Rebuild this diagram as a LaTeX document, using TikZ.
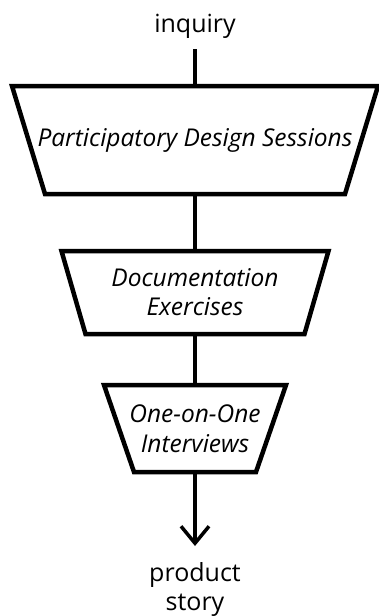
\documentclass[tikz,border=0pt]{standalone}
\usepackage{fontspec}
\setmainfont{Open Sans}
\usetikzlibrary{calc,arrows.meta}
\begin{document}
\begin{tikzpicture}[x=1pt,y=1pt,
  stage/.style={rectangle, inner sep=0pt, outer sep=0pt, align=center,
    font=\fontsize{24.5}{30}\selectfont\itshape},
  outline/.style={draw, line width=4.5pt, line join=miter},
  endtext/.style={inner sep=0pt, align=center,
    font=\fontsize{25}{28.5}\selectfont},
  flow/.style={line width=3.5pt}]
\useasboundingbox (0,0) rectangle (378,-616);

% start and end labels
\node[endtext, anchor=base] (inq) at (195,-32) {inquiry};
\node[endtext, anchor=base] (prod) at (195,-610) {product\\story};

% the three narrowing stages (text boxes)
\node[stage, minimum width=366, minimum height=108]
  (s1) at (195,-140) {Participatory Design Sessions};
\node[stage, minimum width=267, minimum height=83]
  (s2) at (195,-292.5) {Documentation\\[-1pt]Exercises};
\node[stage, minimum width=182, minimum height=87]
  (s3) at (195,-428.5) {One-on-One\\[0.5pt]Interviews};

% trapezoid outlines, wide side on top
\draw[outline] (s1.north west) -- (s1.north east)
  -- ($(s1.south east)+(-33,0)$) -- ($(s1.south west)+(33,0)$) -- cycle;
\draw[outline] (s2.north west) -- (s2.north east)
  -- ($(s2.south east)+(-24,0)$) -- ($(s2.south west)+(24,0)$) -- cycle;
\draw[outline] (s3.north west) -- (s3.north east)
  -- ($(s3.south east)+(-30,0)$) -- ($(s3.south west)+(30,0)$) -- cycle;

\coordinate (tip) at (195,-546);

% connectors
\draw[flow, shorten <=11pt] (inq.south) -- (s1.north);
\draw[flow] (s1.south) -- (s2.north);
\draw[flow] (s2.south) -- (s3.north);
\draw[flow, -{Straight Barb[length=17pt,width=28pt]}] (s3.south) -- (tip);
\end{tikzpicture}
\end{document}
